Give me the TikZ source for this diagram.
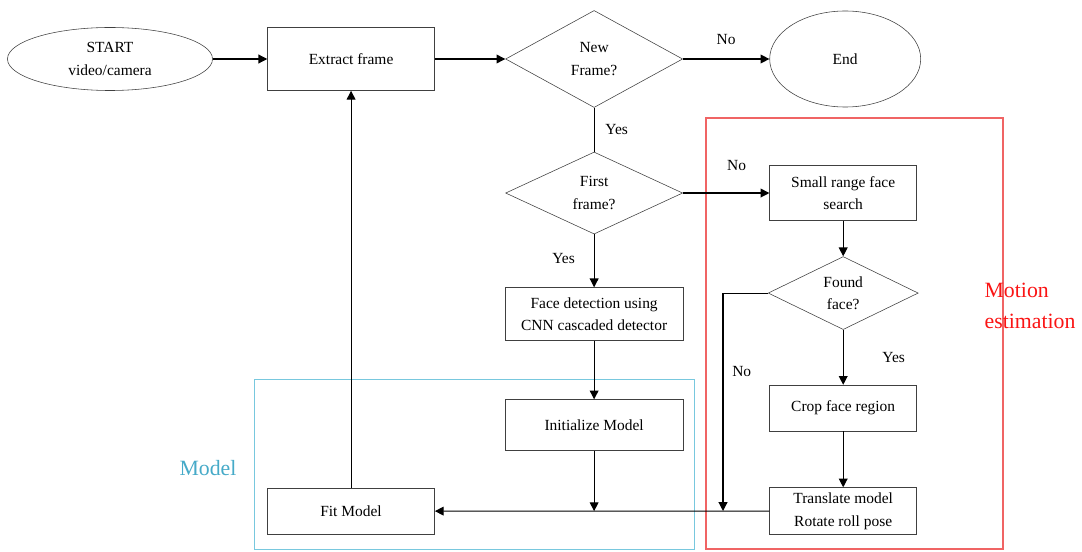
\documentclass[tikz,border=0pt]{standalone}
\usepackage{fontspec}
\setmainfont{Liberation Serif}
\usepackage{tikz}
\usetikzlibrary{shapes.geometric, positioning, arrows.meta}
\definecolor{modelblue}{RGB}{70,170,200}
\definecolor{boxblue}{RGB}{120,200,222}
\definecolor{motionred}{RGB}{250,20,20}
\definecolor{boxred}{RGB}{240,100,100}
\tikzset{
>={Triangle[length=2.2mm,width=2.2mm]}, % filled arrow heads
on grid, % node distances measured centre to centre
every node/.style={font=\fontsize{11}{16}\selectfont},
terminal/.style={draw=black!75, ellipse, thin, align=center}, % start / end
block/.style={draw=black!75, rectangle, thin, align=center}, % process step
decision/.style={draw=black!75, diamond, thin, inner sep=0pt, align=center}, % question
flow/.style={->, thick}, % connectors
grouptitle/.style={font=\fontsize{15.5}{22}\selectfont, align=left},
}
\begin{document}
\begin{tikzpicture}[x=0.025cm, y=-0.025cm]
\useasboundingbox (0,0) rectangle (1082,551);
% groups
\draw[boxblue, thin] (254,379) rectangle (694,549);
\draw[boxred, line width=1pt] (706,118) rectangle (1003,549);
\node[grouptitle, text=modelblue] (modeltitle) at (208,468) {Model};
\node[grouptitle, text=motionred] (motiontitle) at (1030,306) {Motion\\estimation};
% main column
\node[terminal, minimum width=5.125cm, minimum height=1.575cm] (start) at (110,59) {START\\video/camera};
\node[block, right=6.025cm of start, minimum width=4.175cm, minimum height=1.575cm] (extract) {Extract frame};
\node[decision, right=6.075cm of extract, minimum width=4.425cm, minimum height=2.425cm] (newframe) {New\\Frame?};
\node[terminal, right=6.275cm of newframe, minimum width=3.775cm, minimum height=2.4cm] (end) {End};
\node[decision, below=3.35cm of newframe, minimum width=4.425cm, minimum height=2.05cm] (firstframe) {First\\frame?};
\node[block, below=3.025cm of firstframe, minimum width=4.45cm, minimum height=1.325cm] (facedet) {Face detection using\\CNN cascaded detector};
\node[block, below=2.775cm of facedet, minimum width=4.45cm, minimum height=1.275cm] (init) {Initialize Model};
\node[block, below=11.3cm of extract, minimum width=4.175cm, minimum height=1.15cm] (fit) {Fit Model};
% motion estimation column
\node[block, right=6.225cm of firstframe, minimum width=3.675cm, minimum height=1.375cm] (search) {Small range face\\search};
\node[decision, below=2.5cm of search, minimum width=3.75cm, minimum height=1.8cm] (found) {Found\\face?};
\node[block, below=2.875cm of found, minimum width=3.675cm, minimum height=1.15cm] (crop) {Crop face region};
\node[block, below=2.575cm of crop, minimum width=3.675cm, minimum height=1.175cm] (translate) {Translate model\\Rotate roll pose};
\coordinate (nojoin) at (723,511);
\draw[flow] (start) -- (extract);
\draw[flow] (extract) -- (newframe);
\draw[flow] (newframe) -- node[above=0.225cm]{No} (end);
\draw[thick] (newframe) -- node[right=0.15cm]{Yes} (firstframe);
\draw[flow] (firstframe) -- node[above=0.425cm, pos=0.62]{No} (search);
\draw[flow] (firstframe) -- node[left=0.35cm, pos=0.45]{Yes} (facedet);
\draw[flow] (facedet) -- (init);
\draw[flow] (init) -- (init |- fit.east);
\draw[flow] (search) -- (found);
\draw[flow] (found) -- node[right=0.85cm]{Yes} (crop);
\draw[flow] (crop) -- (translate);
\draw[flow] (found.west) -| node[right=0.1cm, pos=0.68]{No} (nojoin);
\draw[flow] (translate) -- (fit);
\draw[flow] (fit) -- (extract);
\end{tikzpicture}
\end{document}
